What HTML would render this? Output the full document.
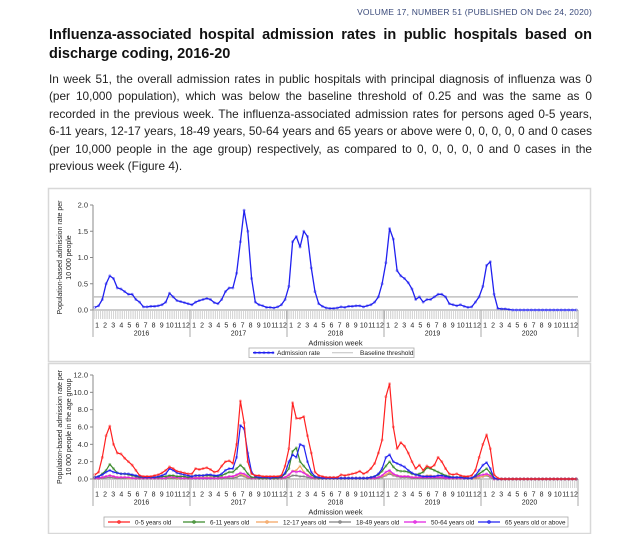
<!DOCTYPE html>
<html><head><meta charset="utf-8"><style>
body{margin:0;width:640px;height:534px;background:#fff;position:relative;overflow:hidden;font-family:"Liberation Sans",sans-serif}
#vol{position:absolute;right:48px;top:7px;font-size:8.5px;color:#3a4a7a;letter-spacing:0.2px}
#title{position:absolute;left:49px;top:26px;width:543px;font-size:14.5px;font-weight:bold;line-height:19px;color:#111;text-align:justify;text-align-last:left}
#para{position:absolute;left:49px;top:71px;width:543px;font-size:11.8px;line-height:17.4px;color:#222}
#para div{text-align:justify;text-align-last:justify;white-space:nowrap}
#para div.last{text-align-last:left}
svg{position:absolute;left:0;top:0}
</style></head><body>
<div id="vol">VOLUME 17, NUMBER 51 (PUBLISHED ON Dec 24, 2020)</div>
<div id="title">Influenza-associated hospital admission rates in public hospitals based on discharge coding, 2016-20</div>
<div id="para">
<div>In week 51, the overall admission rates in public hospitals with principal diagnosis of influenza was 0</div>
<div>(per 10,000 population), which was below the baseline threshold of 0.25 and was the same as 0</div>
<div>recorded in the previous week. The influenza-associated admission rates for persons aged 0-5 years,</div>
<div>6-11 years, 12-17 years, 18-49 years, 50-64 years and 65 years or above were 0, 0, 0, 0, 0 and 0 cases</div>
<div>(per 10,000 people in the age group) respectively, as compared to 0, 0, 0, 0, 0 and 0 cases in the</div>
<div class="last">previous week (Figure 4).</div>
</div>
<svg id="chart" width="640" height="534"></svg>
<script>
// ---- data (2-week resolution, 26 points per year, 2016-2020) ----
const years=["2016","2017","2018","2019","2020"];
const months=["1","2","3","4","5","6","7","8","9","10","11","12"];
const topTicks=["0.0","0.5","1.0","1.5","2.0"];
const topTickVals=[0,0.5,1,1.5,2];
const botTicks=["0.0","2.0","4.0","6.0","8.0","10.0","12.0"];
const botTickVals=[0,2,4,6,8,10,12];
const threshold=0.25;
const admission=[0.05,0.08,0.2,0.5,0.65,0.6,0.42,0.4,0.35,0.3,0.3,0.2,0.15,0.06,0.06,0.07,0.07,0.08,0.1,0.15,0.32,0.25,0.18,0.16,0.14,0.12,
0.1,0.15,0.18,0.2,0.22,0.2,0.14,0.12,0.2,0.35,0.42,0.42,0.7,1.3,1.9,1.5,0.6,0.15,0.1,0.08,0.05,0.05,0.04,0.06,0.1,0.2,
0.45,1.3,1.4,1.2,1.5,1.4,0.8,0.35,0.12,0.07,0.04,0.03,0.03,0.04,0.06,0.05,0.07,0.07,0.08,0.08,0.06,0.08,0.1,0.15,0.25,0.5,
0.9,1.55,1.35,0.75,0.65,0.6,0.52,0.4,0.2,0.25,0.15,0.2,0.2,0.25,0.3,0.3,0.25,0.12,0.1,0.08,0.1,0.07,0.05,0.06,0.15,0.25,
0.45,0.85,0.92,0.3,0.03,0.02,0.02,0.01,0,0,0,0,0,0,0,0,0,0,0,0,0,0,0,0,0,0];
const age0_5=[0.5,0.8,2.5,5.0,6.1,4.0,3.0,2.9,2.4,2.0,1.6,1.0,0.4,0.3,0.3,0.3,0.4,0.5,0.7,1.0,1.4,1.2,0.9,0.8,0.7,0.6,
0.6,1.2,1.1,1.2,1.3,1.1,0.8,0.9,1.5,2.0,2.1,1.8,4.0,9.0,6.5,2.0,0.6,0.4,0.4,0.3,0.3,0.3,0.3,0.3,0.4,1.5,
3.5,8.8,7.0,7.0,7.2,5.0,3.0,0.8,0.4,0.3,0.2,0.2,0.2,0.2,0.5,0.4,0.5,0.6,0.7,0.9,0.6,0.8,1.2,1.8,3.0,4.5,
9.5,11.0,6.0,3.5,4.2,3.8,3.0,2.0,1.2,1.6,1.0,1.5,1.3,1.6,2.5,2.0,1.2,0.6,0.5,0.6,0.4,0.3,0.3,0.4,1.0,2.5,
4.0,5.1,3.5,0.5,0.1,0,0,0,0,0,0,0,0,0,0,0,0,0,0,0,0,0,0,0,0,0];
const age6_11=[0.2,0.3,0.6,1.0,1.7,1.2,0.7,0.6,0.6,0.5,0.4,0.3,0.2,0.2,0.2,0.2,0.2,0.2,0.3,0.3,0.4,0.4,0.3,0.3,0.3,0.2,
0.3,0.4,0.4,0.4,0.4,0.4,0.3,0.3,0.4,0.6,0.8,0.8,1.2,1.6,1.2,0.6,0.2,0.2,0.1,0.1,0.1,0.1,0.1,0.1,0.2,0.6,
1.2,3.2,3.6,2.0,1.5,1.0,0.5,0.2,0.1,0.1,0.1,0.1,0.1,0.1,0.1,0.1,0.1,0.1,0.1,0.1,0.1,0.1,0.2,0.3,0.5,0.9,
1.5,2.0,1.4,1.0,0.9,0.9,0.8,0.6,0.5,0.6,0.8,1.3,1.2,1.0,0.8,0.6,0.4,0.3,0.2,0.2,0.2,0.2,0.1,0.1,0.3,0.6,
0.9,1.2,0.7,0.1,0,0,0,0,0,0,0,0,0,0,0,0,0,0,0,0,0,0,0,0,0,0];
const age12_17=[0.1,0.1,0.2,0.3,0.4,0.3,0.2,0.2,0.2,0.1,0.1,0.1,0.1,0.1,0.1,0.1,0.1,0.1,0.1,0.1,0.2,0.2,0.1,0.1,0.1,0.1,
0.1,0.2,0.2,0.2,0.2,0.2,0.1,0.1,0.2,0.2,0.3,0.3,0.4,0.6,0.4,0.2,0.1,0.1,0.1,0.1,0.1,0.1,0.1,0.1,0.1,0.2,
0.4,0.9,1.0,1.5,0.8,0.5,0.2,0.1,0.1,0.1,0.1,0.1,0.1,0.1,0.1,0.1,0.1,0.1,0.1,0.1,0.1,0.1,0.1,0.1,0.2,0.3,
0.5,0.8,0.5,0.4,0.3,0.3,0.3,0.2,0.2,0.2,0.3,0.4,0.4,0.3,0.3,0.2,0.2,0.1,0.1,0.1,0.1,0.1,0.1,0.1,0.1,0.2,
0.3,0.5,0.3,0,0,0,0,0,0,0,0,0,0,0,0,0,0,0,0,0,0,0,0,0,0,0];
const age18_49=[0.05,0.05,0.1,0.15,0.2,0.15,0.1,0.1,0.1,0.1,0.1,0.05,0.05,0.05,0.05,0.05,0.05,0.05,0.05,0.05,0.1,0.1,0.05,0.05,0.05,0.05,
0.05,0.05,0.05,0.05,0.05,0.05,0.05,0.05,0.05,0.1,0.1,0.1,0.2,0.4,0.3,0.1,0.05,0.05,0.05,0.05,0.05,0.05,0.05,0.05,0.05,0.1,
0.2,0.4,0.4,0.3,0.3,0.2,0.1,0.05,0.05,0.05,0.05,0.05,0.05,0.05,0.05,0.05,0.05,0.05,0.05,0.05,0.05,0.05,0.05,0.05,0.1,0.2,
0.4,0.6,0.4,0.3,0.2,0.2,0.2,0.1,0.1,0.1,0.1,0.1,0.1,0.1,0.1,0.1,0.05,0.05,0.05,0.05,0.05,0.05,0.05,0.05,0.1,0.2,
0.3,0.4,0.2,0,0,0,0,0,0,0,0,0,0,0,0,0,0,0,0,0,0,0,0,0,0,0];
const age50_64=[0.1,0.1,0.2,0.3,0.4,0.3,0.2,0.2,0.2,0.2,0.1,0.1,0.1,0.1,0.1,0.1,0.1,0.1,0.1,0.1,0.3,0.2,0.2,0.1,0.1,0.1,
0.1,0.1,0.1,0.1,0.1,0.1,0.1,0.1,0.2,0.2,0.3,0.3,0.5,0.7,0.6,0.3,0.1,0.1,0.1,0.1,0.1,0.1,0.1,0.1,0.1,0.2,
0.5,0.9,0.8,0.9,0.7,0.4,0.2,0.1,0.1,0.1,0.1,0.1,0.1,0.1,0.1,0.1,0.1,0.1,0.1,0.1,0.1,0.1,0.1,0.1,0.2,0.4,
0.8,1.0,0.6,0.4,0.3,0.3,0.3,0.2,0.2,0.2,0.2,0.2,0.2,0.2,0.2,0.2,0.1,0.1,0.1,0.1,0.1,0.1,0.1,0.1,0.2,0.4,
0.5,0.6,0.4,0,0,0,0,0,0,0,0,0,0,0,0,0,0,0,0,0,0,0,0,0,0,0];
const age65=[0.2,0.3,0.5,0.8,1.0,0.8,0.7,0.6,0.6,0.6,0.5,0.4,0.3,0.2,0.2,0.2,0.2,0.3,0.4,0.6,1.2,1.0,0.7,0.6,0.5,0.4,
0.3,0.4,0.4,0.4,0.5,0.5,0.4,0.4,0.6,1.0,1.2,1.2,2.5,6.2,5.8,3.0,0.8,0.3,0.2,0.2,0.2,0.1,0.2,0.2,0.3,0.7,
2.0,2.8,2.5,4.0,3.8,2.0,0.8,0.3,0.2,0.1,0.1,0.1,0.1,0.1,0.1,0.1,0.1,0.1,0.1,0.1,0.1,0.1,0.2,0.3,0.6,1.2,
2.5,2.8,2.0,1.8,1.6,1.4,1.0,0.7,0.5,0.4,0.3,0.3,0.3,0.3,0.4,0.4,0.3,0.2,0.2,0.2,0.2,0.1,0.1,0.1,0.4,1.0,
1.6,1.9,1.2,0.1,0,0,0,0,0,0,0,0,0,0,0,0,0,0,0,0,0,0,0,0,0,0];
const seriesNames=["0-5 years old","6-11 years old","12-17 years old","18-49 years old","50-64 years old","65 years old or above"];

const NS="http://www.w3.org/2000/svg";
const svg=document.getElementById('chart');
function mk(tag,attrs,parent,text){const e=document.createElementNS(NS,tag);for(const k in attrs)e.setAttribute(k,attrs[k]);if(text!==undefined)e.textContent=text;(parent||svg).appendChild(e);return e;}

const X0=93,X1=578,NPTS=admission.length;
function xs(i){return X0+(i+0.5)*(X1-X0)/NPTS;}

function panel(p){
  const g=mk('g',{});
  
  
  const fr=mk('rect',{x:48.5,y:p.fy+0.5,width:542,height:p.fh,fill:'none',stroke:'#d8d8d8','stroke-width':1.5},g);
  
  
  const ys=v=>p.y0-(v/p.max)*(p.y0-p.yTop);
  const ya=mk('line',{x1:X0,y1:p.yTop,x2:X0,y2:p.y0,stroke:'#888','stroke-width':1},g);
  
  
  p.tickVals.forEach((v,i)=>{
    mk('line',{x1:X0-3,y1:ys(v),x2:X0,y2:ys(v),stroke:'#888'},g);
    const t=mk('text',{x:X0-5,y:ys(v)+2.5,'font-size':7.5,'text-anchor':'end',fill:'#333'},g,p.tickLabels[i]);
    
    
  });
  const cy=(p.yTop+p.y0)/2;
  const yt=mk('text',{transform:`translate(62,${cy}) rotate(-90)`,'font-size':7,'text-anchor':'middle',fill:'#222'},g);
  
  
  mk('tspan',{x:0,dy:0},yt,p.yTitle[0]);mk('tspan',{x:0,dy:9},yt,p.yTitle[1]);
  mk('line',{x1:X0,y1:p.y0,x2:X1,y2:p.y0,stroke:'#999'},g);
  const nW=261;
  for(let w=0;w<=nW;w++){const x=X0+w*(X1-X0)/nW;mk('line',{x1:x,y1:p.y0+1,x2:x,y2:p.y0+9,stroke:'#bbb','stroke-width':0.6},g);}
  const yw=(X1-X0)/years.length;
  years.forEach((yr,k)=>{
    const xa=X0+k*yw;
    mk('line',{x1:xa,y1:p.y0,x2:xa,y2:p.y0+27,stroke:'#aaa','stroke-width':1},g);
    months.forEach((m,j)=>{
      const t=mk('text',{x:xa+(j+0.5)*yw/12,y:p.y0+17.5,'font-size':7,'text-anchor':'middle',fill:'#222'},g,m);
      
      
    });
    const t=mk('text',{x:xa+yw/2,y:p.y0+25.5,'font-size':7,'text-anchor':'middle',fill:'#222'},g,yr);
    
    
  });
  mk('line',{x1:X1,y1:p.y0,x2:X1,y2:p.y0+27,stroke:'#aaa'},g);
  const xt=mk('text',{x:(X0+X1)/2,y:p.y0+35.5,'font-size':7.5,'text-anchor':'middle',fill:'#222'},g,'Admission week');
  
  
  return {g,ys};
}
function drawLine(g,ys,data,color,w,name,marker){
  const pts=data.map((v,i)=>xs(i).toFixed(1)+','+ys(v).toFixed(1)).join(' ');
  const pl=mk('polyline',{points:pts,fill:'none',stroke:color,'stroke-width':w,'stroke-linejoin':'round'},g);
  
  
  if(marker){data.forEach((v,i)=>{mk('circle',{cx:xs(i),cy:ys(v),r:1.1,fill:'none',stroke:color,'stroke-opacity':0.45,'stroke-width':0.7},g);});}
}

// ---- top panel ----
const topP=panel({name:'admission-rate-chart',fy:188,fh:173,yTop:205,y0:310,max:2,tickVals:topTickVals,tickLabels:topTicks,yTitle:['Population-based admission rate per','10 000 people']});
const th=mk('line',{x1:X0,y1:topP.ys(threshold),x2:X1,y2:topP.ys(threshold),stroke:'#c0c0c0','stroke-width':1.5},topP.g);


drawLine(topP.g,topP.ys,admission,'#2020f0',1.3,'admission-rate-line',true);
const lg1=mk('g',{});


mk('rect',{x:249,y:348,width:165,height:9.5,fill:'#fff',stroke:'#aaa','stroke-width':0.8},lg1);
mk('line',{x1:253,y1:352.7,x2:274,y2:352.7,stroke:'#2020f0','stroke-width':1.3},lg1);
[255,259.5,264,268.5,273].forEach(x=>mk('circle',{cx:x,cy:352.7,r:1.1,fill:'none',stroke:'#2020f0','stroke-opacity':0.5,'stroke-width':0.7},lg1));
const le1=mk('text',{x:277,y:355,'font-size':6.5,fill:'#222'},lg1,'Admission rate');


mk('line',{x1:332,y1:352.7,x2:353,y2:352.7,stroke:'#c0c0c0','stroke-width':1},lg1);
const le2=mk('text',{x:360,y:355,'font-size':6.5,fill:'#222'},lg1,'Baseline threshold');



// ---- bottom panel ----
const botP=panel({name:'age-group-chart',fy:363,fh:170,yTop:375,y0:479,max:12,tickVals:botTickVals,tickLabels:botTicks,yTitle:['Population-based admission rate per','10 000 people in the age group']});
const colors=['#ff2020','#3a8a2a','#f4a460','#808080','#e020e0','#2020f0'];
const series=[age0_5,age6_11,age12_17,age18_49,age50_64,age65];
const drawOrder=[3,2,4,1,5,0];
drawOrder.forEach(k=>drawLine(botP.g,botP.ys,series[k],colors[k],1.2,'series-'+seriesNames[k].replace(/[^a-z0-9]+/gi,'-').toLowerCase(),true));
const lg2=mk('g',{});


mk('rect',{x:104,y:517,width:464,height:10,fill:'#fff',stroke:'#aaa','stroke-width':0.8},lg2);
const lx=[108,183,256,329,404,478];
seriesNames.forEach((n,k)=>{
  const x=lx[k];
  mk('line',{x1:x,y1:522,x2:x+22,y2:522,stroke:colors[k],'stroke-width':1.2},lg2);
  mk('circle',{cx:x+11,cy:522,r:1.3,fill:'none',stroke:colors[k],'stroke-width':0.8},lg2);
  const t=mk('text',{x:x+27,y:524.3,'font-size':6.3,fill:'#222'},lg2,n);
  
  
});
</script>
</body></html>
